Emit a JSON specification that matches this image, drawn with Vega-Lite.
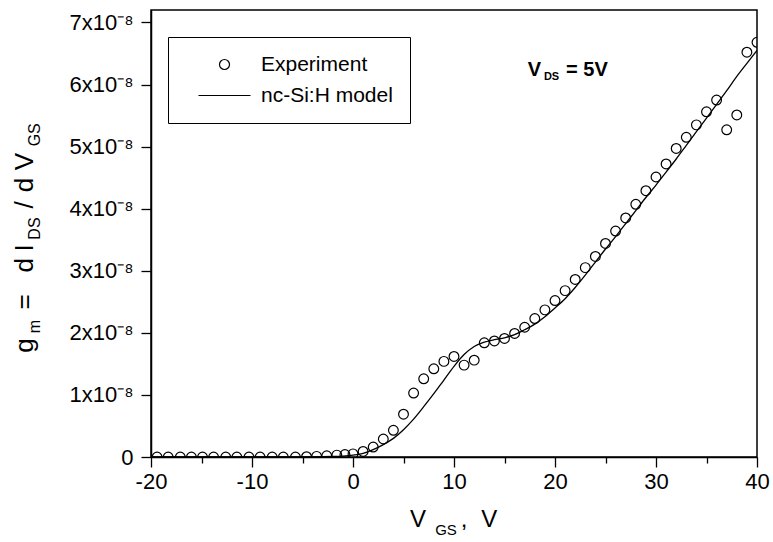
{
  "$schema": "https://vega.github.io/schema/vega-lite/v6.json",
  "width": 606,
  "height": 447,
  "autosize": {"type": "none"},
  "padding": {"left": 151, "top": 10, "right": 16, "bottom": 85},
  "background": "white",
  "config": {
    "view": {"stroke": "black", "strokeWidth": 1.5},
    "font": "Liberation Sans",
    "axis": {
      "grid": false,
      "domainColor": "black",
      "domainWidth": 1.5,
      "tickColor": "black",
      "tickWidth": 1.3,
      "labelFont": "Liberation Sans",
      "labelFontSize": 22,
      "labelColor": "black",
      "title": null
    }
  },
  "datasets": {
    "experiment": [
      {"vgs": -19.4, "gm": 0, "series": "Experiment"},
      {"vgs": -18.3, "gm": 0, "series": "Experiment"},
      {"vgs": -17.1, "gm": 0, "series": "Experiment"},
      {"vgs": -16.0, "gm": 0, "series": "Experiment"},
      {"vgs": -14.9, "gm": 0, "series": "Experiment"},
      {"vgs": -13.8, "gm": 0, "series": "Experiment"},
      {"vgs": -12.6, "gm": 0, "series": "Experiment"},
      {"vgs": -11.5, "gm": 0, "series": "Experiment"},
      {"vgs": -10.3, "gm": 0, "series": "Experiment"},
      {"vgs": -9.2, "gm": 0, "series": "Experiment"},
      {"vgs": -8.0, "gm": 0, "series": "Experiment"},
      {"vgs": -6.9, "gm": 0, "series": "Experiment"},
      {"vgs": -5.7, "gm": 0, "series": "Experiment"},
      {"vgs": -4.6, "gm": 0.005e-8, "series": "Experiment"},
      {"vgs": -3.6, "gm": 0.01e-8, "series": "Experiment"},
      {"vgs": -2.6, "gm": 0.02e-8, "series": "Experiment"},
      {"vgs": -1.6, "gm": 0.03e-8, "series": "Experiment"},
      {"vgs": -0.8, "gm": 0.04e-8, "series": "Experiment"},
      {"vgs": 0, "gm": 0.05e-8, "series": "Experiment"},
      {"vgs": 1, "gm": 0.09e-8, "series": "Experiment"},
      {"vgs": 2, "gm": 0.16e-8, "series": "Experiment"},
      {"vgs": 3, "gm": 0.29e-8, "series": "Experiment"},
      {"vgs": 4, "gm": 0.43e-8, "series": "Experiment"},
      {"vgs": 5, "gm": 0.69e-8, "series": "Experiment"},
      {"vgs": 6, "gm": 1.03e-8, "series": "Experiment"},
      {"vgs": 7, "gm": 1.26e-8, "series": "Experiment"},
      {"vgs": 8, "gm": 1.42e-8, "series": "Experiment"},
      {"vgs": 9, "gm": 1.54e-8, "series": "Experiment"},
      {"vgs": 10, "gm": 1.62e-8, "series": "Experiment"},
      {"vgs": 11, "gm": 1.48e-8, "series": "Experiment"},
      {"vgs": 12, "gm": 1.56e-8, "series": "Experiment"},
      {"vgs": 13, "gm": 1.84e-8, "series": "Experiment"},
      {"vgs": 14, "gm": 1.87e-8, "series": "Experiment"},
      {"vgs": 15, "gm": 1.91e-8, "series": "Experiment"},
      {"vgs": 16, "gm": 1.99e-8, "series": "Experiment"},
      {"vgs": 17, "gm": 2.09e-8, "series": "Experiment"},
      {"vgs": 18, "gm": 2.23e-8, "series": "Experiment"},
      {"vgs": 19, "gm": 2.37e-8, "series": "Experiment"},
      {"vgs": 20, "gm": 2.52e-8, "series": "Experiment"},
      {"vgs": 21, "gm": 2.68e-8, "series": "Experiment"},
      {"vgs": 22, "gm": 2.86e-8, "series": "Experiment"},
      {"vgs": 23, "gm": 3.05e-8, "series": "Experiment"},
      {"vgs": 24, "gm": 3.23e-8, "series": "Experiment"},
      {"vgs": 25, "gm": 3.44e-8, "series": "Experiment"},
      {"vgs": 26, "gm": 3.64e-8, "series": "Experiment"},
      {"vgs": 27, "gm": 3.85e-8, "series": "Experiment"},
      {"vgs": 28, "gm": 4.07e-8, "series": "Experiment"},
      {"vgs": 29, "gm": 4.29e-8, "series": "Experiment"},
      {"vgs": 30, "gm": 4.51e-8, "series": "Experiment"},
      {"vgs": 31, "gm": 4.72e-8, "series": "Experiment"},
      {"vgs": 32, "gm": 4.97e-8, "series": "Experiment"},
      {"vgs": 33, "gm": 5.15e-8, "series": "Experiment"},
      {"vgs": 34, "gm": 5.35e-8, "series": "Experiment"},
      {"vgs": 35, "gm": 5.56e-8, "series": "Experiment"},
      {"vgs": 36, "gm": 5.75e-8, "series": "Experiment"},
      {"vgs": 37, "gm": 5.27e-8, "series": "Experiment"},
      {"vgs": 38, "gm": 5.51e-8, "series": "Experiment"},
      {"vgs": 39, "gm": 6.52e-8, "series": "Experiment"},
      {"vgs": 40, "gm": 6.68e-8, "series": "Experiment"}
    ],
    "model": [
      {"vgs": -20, "gm": 0},
      {"vgs": -10, "gm": 0},
      {"vgs": -4, "gm": 0.002e-8},
      {"vgs": -2, "gm": 0.008e-8},
      {"vgs": -1, "gm": 0.015e-8},
      {"vgs": 0, "gm": 0.03e-8},
      {"vgs": 1, "gm": 0.06e-8},
      {"vgs": 2, "gm": 0.12e-8},
      {"vgs": 3, "gm": 0.2e-8},
      {"vgs": 4, "gm": 0.3e-8},
      {"vgs": 5, "gm": 0.44e-8},
      {"vgs": 6, "gm": 0.61e-8},
      {"vgs": 7, "gm": 0.81e-8},
      {"vgs": 8, "gm": 1.02e-8},
      {"vgs": 9, "gm": 1.24e-8},
      {"vgs": 10, "gm": 1.46e-8},
      {"vgs": 11, "gm": 1.65e-8},
      {"vgs": 12, "gm": 1.78e-8},
      {"vgs": 13, "gm": 1.85e-8},
      {"vgs": 14, "gm": 1.89e-8},
      {"vgs": 15, "gm": 1.92e-8},
      {"vgs": 16, "gm": 1.97e-8},
      {"vgs": 17, "gm": 2.05e-8},
      {"vgs": 18, "gm": 2.14e-8},
      {"vgs": 19, "gm": 2.26e-8},
      {"vgs": 20, "gm": 2.4e-8},
      {"vgs": 21, "gm": 2.55e-8},
      {"vgs": 22, "gm": 2.73e-8},
      {"vgs": 23, "gm": 2.93e-8},
      {"vgs": 24, "gm": 3.14e-8},
      {"vgs": 25, "gm": 3.35e-8},
      {"vgs": 26, "gm": 3.55e-8},
      {"vgs": 27, "gm": 3.76e-8},
      {"vgs": 28, "gm": 3.97e-8},
      {"vgs": 29, "gm": 4.18e-8},
      {"vgs": 30, "gm": 4.38e-8},
      {"vgs": 31, "gm": 4.59e-8},
      {"vgs": 32, "gm": 4.8e-8},
      {"vgs": 33, "gm": 5.02e-8},
      {"vgs": 34, "gm": 5.24e-8},
      {"vgs": 35, "gm": 5.46e-8},
      {"vgs": 36, "gm": 5.68e-8},
      {"vgs": 37, "gm": 5.9e-8},
      {"vgs": 38, "gm": 6.13e-8},
      {"vgs": 39, "gm": 6.34e-8},
      {"vgs": 40, "gm": 6.55e-8}
    ],
    "annot_main": [
      {"vgs": 17.3, "gm": 6.23e-8, "text": "V"},
      {"vgs": 21.1, "gm": 6.23e-8, "text": "= 5V"}
    ],
    "annot_sub": [
      {"vgs": 18.9, "gm": 6.12e-8, "text": "DS"}
    ],
    "xtitle_main": [
      {"vgs": 6.44, "gm": -1.01e-8, "text": "V"},
      {"vgs": 11.0, "gm": -1.01e-8, "text": ","},
      {"vgs": 13.5, "gm": -1.01e-8, "text": "V"}
    ],
    "xtitle_sub": [
      {"vgs": 9.21, "gm": -1.17e-8, "text": "GS"}
    ],
    "ytitle_main": [
      {"vgs": -32.5, "gm": 1.795e-8, "text": "g"},
      {"vgs": -32.5, "gm": 2.5e-8, "text": "="},
      {"vgs": -32.5, "gm": 3.09e-8, "text": "d"},
      {"vgs": -32.5, "gm": 3.37e-8, "text": "I"},
      {"vgs": -32.5, "gm": 4.06e-8, "text": "/"},
      {"vgs": -32.5, "gm": 4.38e-8, "text": "d"},
      {"vgs": -32.5, "gm": 4.76e-8, "text": "V"}
    ],
    "ytitle_sub": [
      {"vgs": -31.5, "gm": 2.1e-8, "text": "m"},
      {"vgs": -31.5, "gm": 3.68e-8, "text": "DS"},
      {"vgs": -31.5, "gm": 5.19e-8, "text": "GS"}
    ]
  },
  "layer": [
    {
      "data": {"name": "model"},
      "mark": {"type": "line", "color": "black", "strokeWidth": 1.3, "interpolate": "monotone", "clip": true},
      "encoding": {
        "x": {
          "field": "vgs", "type": "quantitative",
          "scale": {"domain": [-20, 40], "nice": false, "zero": false},
          "axis": {
            "values": [-20, -15, -10, -5, 0, 5, 10, 15, 20, 25, 30, 35, 40],
            "labelExpr": "datum.value % 10 === 0 ? '' + datum.value : ''",
            "tickSize": {"condition": {"test": "datum.value % 10 === 0", "value": 10}, "value": 6},
            "labelPadding": 4,
            "labelFlush": false
          }
        },
        "y": {
          "field": "gm", "type": "quantitative",
          "scale": {"domain": [0, 7.2e-8], "nice": false, "zero": false},
          "axis": {
            "values": [0, 0.5e-8, 1e-8, 1.5e-8, 2e-8, 2.5e-8, 3e-8, 3.5e-8, 4e-8, 4.5e-8, 5e-8, 5.5e-8, 6e-8, 6.5e-8, 7e-8],
            "labelExpr": "datum.value < 1e-12 ? '0' : (round(datum.value * 2e8) % 2 === 0 ? round(datum.value * 1e8) + 'x10⁻⁸' : '')",
            "tickSize": {"condition": {"test": "round(datum.value * 2e8) % 2 === 0", "value": 10}, "value": 5},
            "labelPadding": 8,
            "labelFlush": false
          }
        }
      }
    },
    {
      "data": {"name": "experiment"},
      "mark": {"type": "point", "filled": false, "color": "black", "size": 95, "strokeWidth": 1.2, "opacity": 1, "clip": true},
      "encoding": {
        "x": {"field": "vgs", "type": "quantitative"},
        "y": {"field": "gm", "type": "quantitative"},
        "shape": {
          "field": "series", "type": "nominal",
          "scale": {"domain": ["Experiment", "nc-Si:H model"], "range": ["circle", "M-5.2,0H5.2"]},
          "legend": {
            "orient": "none",
            "legendX": 17,
            "legendY": 27,
            "title": null,
            "strokeColor": "black",
            "padding": 17,
            "labelFont": "Liberation Sans",
            "labelFontSize": 21,
            "labelColor": "black",
            "symbolSize": 100,
            "symbolStrokeWidth": 1.2,
            "symbolStrokeColor": "black",
            "symbolOffset": 29,
            "labelOffset": 26,
            "rowPadding": 9
          }
        }
      }
    },
    {
      "data": {"name": "annot_main"},
      "mark": {"type": "text", "align": "left", "baseline": "middle", "fontSize": 20, "fontWeight": "bold", "color": "black"},
      "encoding": {
        "x": {"field": "vgs", "type": "quantitative"},
        "y": {"field": "gm", "type": "quantitative"},
        "text": {"field": "text"}
      }
    },
    {
      "data": {"name": "annot_sub"},
      "mark": {"type": "text", "align": "left", "baseline": "middle", "fontSize": 11, "fontWeight": "bold", "color": "black"},
      "encoding": {
        "x": {"field": "vgs", "type": "quantitative"},
        "y": {"field": "gm", "type": "quantitative"},
        "text": {"field": "text"}
      }
    },
    {
      "data": {"name": "xtitle_main"},
      "mark": {"type": "text", "align": "center", "baseline": "middle", "fontSize": 24, "color": "black", "clip": false},
      "encoding": {
        "x": {"field": "vgs", "type": "quantitative"},
        "y": {"field": "gm", "type": "quantitative"},
        "text": {"field": "text"}
      }
    },
    {
      "data": {"name": "xtitle_sub"},
      "mark": {"type": "text", "align": "center", "baseline": "middle", "fontSize": 15, "color": "black", "clip": false},
      "encoding": {
        "x": {"field": "vgs", "type": "quantitative"},
        "y": {"field": "gm", "type": "quantitative"},
        "text": {"field": "text"}
      }
    },
    {
      "data": {"name": "ytitle_main"},
      "mark": {"type": "text", "align": "center", "baseline": "middle", "angle": 270, "fontSize": 26, "color": "black", "clip": false},
      "encoding": {
        "x": {"field": "vgs", "type": "quantitative"},
        "y": {"field": "gm", "type": "quantitative"},
        "text": {"field": "text"}
      }
    },
    {
      "data": {"name": "ytitle_sub"},
      "mark": {"type": "text", "align": "center", "baseline": "middle", "angle": 270, "fontSize": 16, "color": "black", "clip": false},
      "encoding": {
        "x": {"field": "vgs", "type": "quantitative"},
        "y": {"field": "gm", "type": "quantitative"},
        "text": {"field": "text"}
      }
    }
  ]
}
